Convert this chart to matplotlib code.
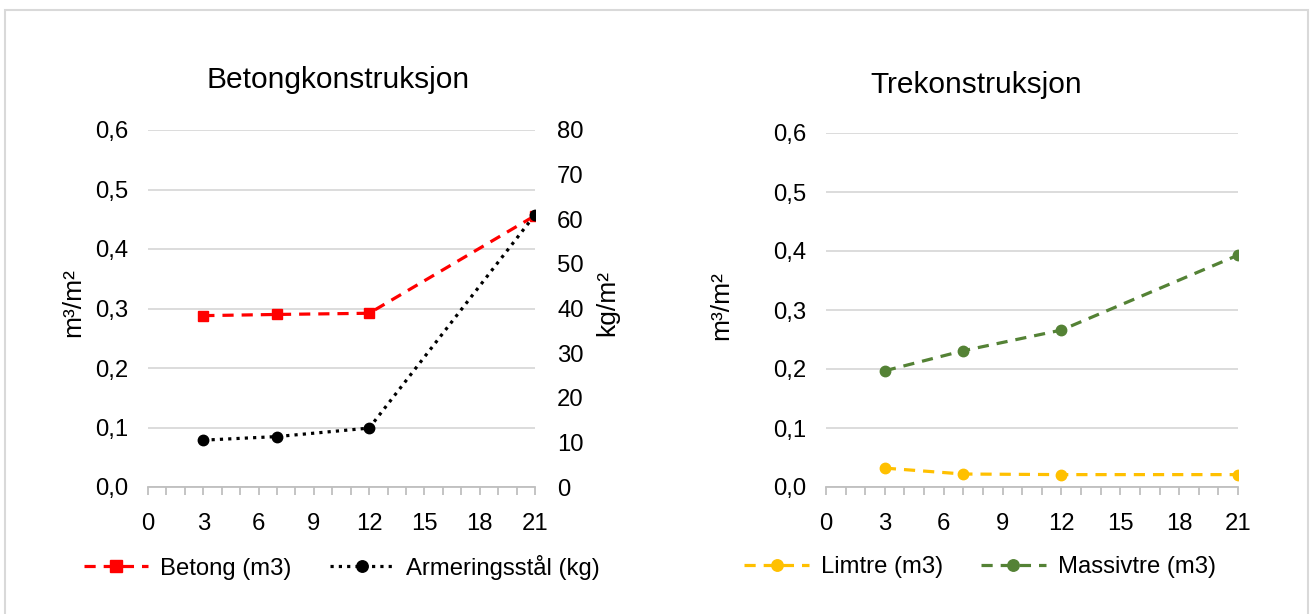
import numpy as np
import matplotlib.pyplot as plt
from matplotlib.patches import Rectangle

plt.rcParams['font.family'] = ['Liberation Sans', 'DejaVu Sans']

# data
etasjer = [3, 7, 12, 21]
betong = [0.288, 0.290, 0.292, 0.456]
armering = [10.5, 11.3, 13.2, 61.0]
limtre = [0.032, 0.022, 0.021, 0.021]
massivtre = [0.197, 0.231, 0.266, 0.393]

grid_c = '#D9D9D9'
axis_c = '#BFBFBF'
fs = 17.2
W, H = 1312, 614

fig = plt.figure(figsize=(13.12, 6.14), dpi=100)
fig.patches.append(Rectangle((5 / W, -0.05), 1 - 9 / W, 1.05 - 10 / H, transform=fig.transFigure,
                             fill=False, edgecolor='#D9D9D9', lw=1.5))


def px(x, y):
    return x / W, 1 - y / H


def style(ax):
    ax.set_xlim(0, 21)
    ax.set_ylim(0, 0.6)
    ax.set_xticks(range(0, 22, 3))
    ax.set_xticks(range(0, 22), minor=True)
    yt = np.arange(0, 0.61, 0.1)
    ax.set_yticks(yt)
    ax.set_yticklabels([('%.1f' % v).replace('.', ',') for v in yt])
    for s in ['top', 'right', 'left']:
        ax.spines[s].set_visible(False)
    ax.spines['bottom'].set_color(axis_c)
    ax.spines['bottom'].set_linewidth(1.3)
    ax.grid(axis='y', color=grid_c, lw=1.3)
    ax.set_axisbelow(True)
    ax.tick_params(axis='x', which='both', color=axis_c, length=6, width=1.3,
                   labelsize=fs, pad=13)
    ax.tick_params(axis='y', length=0, labelsize=fs, pad=14)


def legend(handles, cx):
    fig.legend(handles=handles, loc='center', bbox_to_anchor=(cx / W, 1 - 567 / H), ncol=2,
               frameon=False, fontsize=fs, handlelength=2.7, handletextpad=0.5,
               columnspacing=1.6, numpoints=1, markerscale=1.1)


# left chart
ax1 = fig.add_axes([148 / W, 1 - 487 / H, 387 / W, 357 / H])
style(ax1)
l1, = ax1.plot(etasjer, betong, color='#FF0000', ls=(0, (3.5, 2.5)), lw=2.3,
               marker='s', ms=7.5, label='Betong (m3)')
ax2 = ax1.twinx()
ax2.set_ylim(0, 80)
ax2.set_yticks(range(0, 81, 10))
for s in ['top', 'right', 'left', 'bottom']:
    ax2.spines[s].set_visible(False)
ax2.tick_params(axis='y', length=0, labelsize=fs, pad=16)
l2, = ax2.plot(etasjer, armering, color='black', ls=(0, (1, 1.6)), lw=2.3,
               marker='o', ms=7.5, label='Armeringsstål (kg)')
fig.text(*px(338, 80), 'Betongkonstruksjon', fontsize=21.5, ha='center', va='center')
fig.text(*px(73, 303), 'm³/m²', fontsize=19, rotation=90, ha='center', va='center')
fig.text(*px(607, 303), 'kg/m²', fontsize=19, rotation=90, ha='center', va='center')
legend([l1, l2], 342)

# right chart
ax3 = fig.add_axes([826 / W, 1 - 487 / H, 412 / W, 354 / H])
style(ax3)
l3, = ax3.plot(etasjer, limtre, color='#FFC000', ls=(0, (3.5, 2.5)), lw=2.3,
               marker='o', ms=7.5, label='Limtre (m3)')
l4, = ax3.plot(etasjer, massivtre, color='#548235', ls=(0, (3.5, 2.5)), lw=2.3,
               marker='o', ms=7.5, label='Massivtre (m3)')
fig.text(*px(976, 85), 'Trekonstruksjon', fontsize=21.5, ha='center', va='center')
fig.text(*px(721, 306), 'm³/m²', fontsize=19, rotation=90, ha='center', va='center')
legend([l3, l4], 980)

fig.savefig('out.png', dpi=100)
